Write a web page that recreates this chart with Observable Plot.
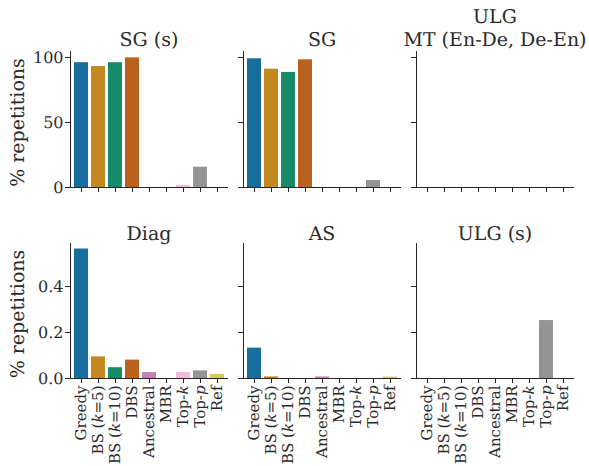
<!DOCTYPE html>
<html><head><meta charset="utf-8">
<script src="https://cdn.jsdelivr.net/npm/d3@7"></script>
<script src="https://cdn.jsdelivr.net/npm/@observablehq/plot@0.6"></script>
<style>
body{margin:0;background:#fff;}
#chart{position:relative;width:589px;height:466px;overflow:hidden;font-family:"DejaVu Serif";}
#chart svg{position:absolute;}
#chart text{text-rendering:geometricPrecision;}
</style></head><body><div id="chart"></div>
<script>
const categories = ["Greedy","BS (k=5)","BS (k=10)","DBS","Ancestral","MBR","Top-k","Top-p","Ref"];
const colors = ["#176d9c","#c38820","#168a6a","#ba611b","#c283b6","#b8875c","#f1b8e0","#949494","#d5cd4a"];
const titles = ["SG (s)","SG","ULG\nMT (En-De, De-En)","Diag","AS","ULG (s)"];
const sgS   = [96, 93, 96, 99.7, 0, 0, 1.5, 15.6, 0];
const sg    = [99, 91, 88.5, 98.2, 0, 0, 0, 5.4, 0];
const ulgMT = [0, 0, 0, 0, 0, 0, 0, 0, 0];
const diag  = [0.563, 0.094, 0.047, 0.080, 0.026, 0, 0.026, 0.033, 0.018];
const as    = [0.132, 0.007, 0, 0, 0.007, 0, 0, 0, 0.006];
const ulgS  = [0, 0, 0, 0, 0, 0, 0, 0.252, 0];
const topTicks = [0, 50, 100];
const bottomTicks = [0, 0.2, 0.4];
const yLabel = "% repetitions";

const panels = [sgS, sg, ulgMT, diag, as, ulgS];
const chart = document.getElementById("chart");
const panelLefts = [70, 243, 416];
const panelW = 157;
const INK = "#262626";
const TXT = "#2a2a2a";

panels.forEach((vals, i) => {
  const row = Math.floor(i / 3), col = i % 3;
  const data = categories.map((c, j) => ({method: c, value: vals[j]}));
  const mTop = row === 0 ? 51 : 50;
  const frameH = row === 0 ? 136 : 135;
  const mBottom = row === 0 ? 15 : 88;
  const ymax = row === 0 ? 104.6 : 0.587;
  const ticks = row === 0 ? topTicks : bottomTicks;
  const fmt = row === 0 ? (d => String(d)) : (d => d.toFixed(1));
  const marks = [
    Plot.barY(data, {x: "method", y: "value", fill: "method"}),
    Plot.frame({anchor: "left", stroke: INK, strokeWidth: 1}),
    Plot.frame({anchor: "bottom", stroke: INK, strokeWidth: 1}),
    Plot.axisY({ticks, tickSize: 5, tickPadding: 2, tickFormat: col === 0 ? fmt : () => "", label: null, stroke: INK, fill: TXT, fontSize: 16}),
    Plot.axisX({tickSize: 5, tickPadding: 2, tickRotate: row === 1 ? -90 : 0, tickFormat: row === 1 ? (d => d) : () => "", label: null, stroke: INK, fill: TXT, fontSize: 15}),
    Plot.text([titles[i]], {frameAnchor: "top", dy: row === 0 ? -6 : -4, lineAnchor: "bottom", lineHeight: 1.16, fontSize: 19, fill: TXT})
  ];
  if (col === 0) {
    marks.push(Plot.text([yLabel], {frameAnchor: "left", rotate: -90, textAnchor: "middle", dx: -52.5, dy: 3, fontSize: 19, fill: TXT}));
  }
  const svg = Plot.plot({
    width: 70 + panelW + 10,
    height: mTop + frameH + mBottom,
    marginLeft: 70, marginRight: 10, marginTop: mTop, marginBottom: mBottom,
    x: {domain: categories, paddingInner: 0.2, paddingOuter: 0.1},
    y: {domain: [0, ymax]},
    color: {domain: categories, range: colors},
    style: {background: "transparent", overflow: "visible", fontFamily: "DejaVu Serif", fontSize: "16px", color: TXT},
    marks
  });
  svg.style.left = (panelLefts[col] - 70) + "px";
  svg.style.top = (row === 0 ? 0 : 193) + "px";
  // italic k / p in tick labels
  svg.querySelectorAll("text").forEach(t => {
    const s = t.textContent;
    let parts = null;
    if (/^BS \(k=\d+\)$/.test(s)) parts = ["BS (", "k", s.slice(5)];
    else if (/^Top-[kp]$/.test(s)) parts = ["Top-", s.slice(4), ""];
    if (parts) {
      t.textContent = "";
      parts.forEach((p, k) => {
        if (!p) return;
        const ts = document.createElementNS("http://www.w3.org/2000/svg", "tspan");
        ts.textContent = p;
        if (k === 1) ts.setAttribute("font-style", "italic");
        t.appendChild(ts);
      });
    }
  });
  chart.appendChild(svg);
});
</script></body></html>
